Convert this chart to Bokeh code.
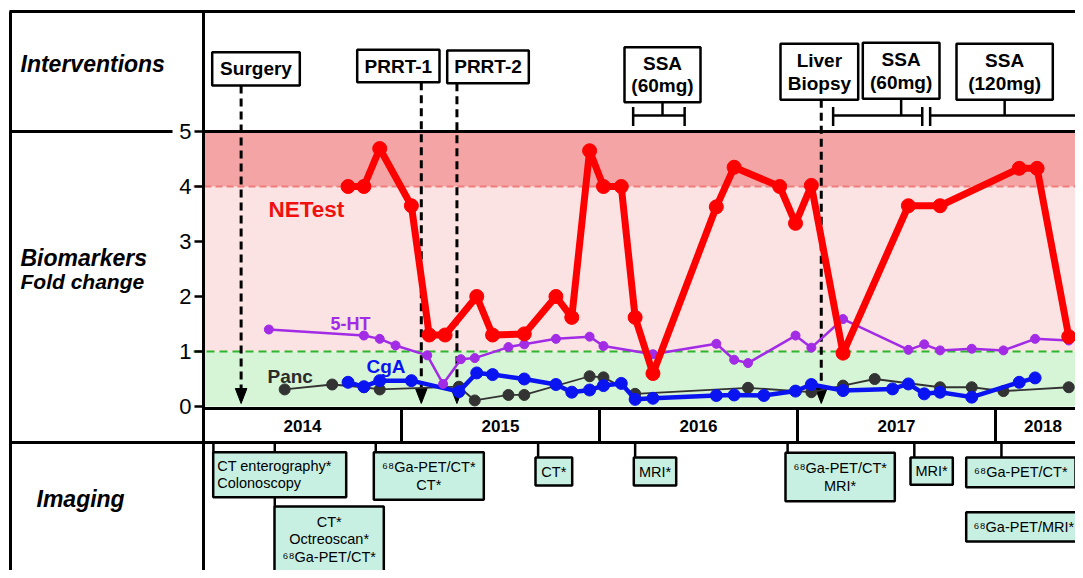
from bokeh.plotting import figure
from bokeh.models import Range1d, LinearAxis, FixedTicker
from bokeh.core.properties import value
from bokeh.embed import file_html
from bokeh.resources import INLINE

FONT = "Liberation Sans"

# ---------------- data ----------------
years = ["2014", "2015", "2016", "2017", "2018"]
year_starts = [2014.0, 2015.0, 2016.0, 2017.0, 2018.0]

# biomarkers, fold change vs. time (decimal years)
netest_x = [2014.73, 2014.81, 2014.89, 2015.05, 2015.14, 2015.22, 2015.38, 2015.46, 2015.62,
            2015.78, 2015.86, 2015.95, 2016.02, 2016.11, 2016.18, 2016.27, 2016.59, 2016.68,
            2016.91, 2016.99, 2017.07, 2017.23, 2017.56, 2017.72, 2018.12, 2018.21, 2018.37]
netest_y = [4.0, 4.0, 4.69, 3.65, 1.3, 1.3, 2.0, 1.3, 1.32,
            2.0, 1.62, 4.65, 4.0, 4.0, 1.62, 0.6, 3.63, 4.35,
            4.0, 3.33, 4.02, 0.97, 3.65, 3.65, 4.33, 4.33, 1.27]

ht5_x = [2014.33, 2014.81, 2014.89, 2014.97, 2015.13, 2015.21, 2015.30, 2015.37, 2015.54,
         2015.62, 2015.78, 2015.95, 2016.02, 2016.27, 2016.59, 2016.68, 2016.75, 2016.99,
         2017.07, 2017.23, 2017.56, 2017.64, 2017.72, 2017.88, 2018.04, 2018.20, 2018.37]
ht5_y = [1.40, 1.29, 1.23, 1.11, 0.93, 0.41, 0.86, 0.88, 1.08,
         1.13, 1.23, 1.27, 1.10, 0.95, 1.14, 0.85, 0.79, 1.29,
         1.07, 1.59, 1.03, 1.13, 1.02, 1.05, 1.02, 1.23, 1.20]

cga_x = [2014.73, 2014.81, 2014.89, 2015.05, 2015.29, 2015.38, 2015.46, 2015.62, 2015.78,
         2015.86, 2015.95, 2016.02, 2016.11, 2016.18, 2016.27, 2016.59, 2016.68, 2016.83,
         2016.99, 2017.07, 2017.23, 2017.48, 2017.56, 2017.64, 2017.72, 2017.88, 2018.12, 2018.20]
cga_y = [0.44, 0.36, 0.47, 0.47, 0.27, 0.61, 0.58, 0.50, 0.40,
         0.26, 0.30, 0.38, 0.42, 0.13, 0.15, 0.20, 0.21, 0.20,
         0.28, 0.40, 0.29, 0.32, 0.41, 0.23, 0.26, 0.17, 0.44, 0.52]

panc_x = [2014.41, 2014.65, 2014.81, 2014.89, 2015.29, 2015.37, 2015.54, 2015.62, 2015.95,
          2016.02, 2016.18, 2016.75, 2017.07, 2017.23, 2017.39, 2017.72, 2017.88, 2018.04, 2018.37]
panc_y = [0.31, 0.40, 0.35, 0.31, 0.36, 0.11, 0.21, 0.21, 0.55,
          0.53, 0.23, 0.34, 0.26, 0.38, 0.50, 0.35, 0.35, 0.28, 0.35]

# reference bands (fold change)
band_bottom = [0.0, 1.0, 4.0]
band_top = [1.0, 4.0, 5.0]
y_ticks = [0, 1, 2, 3, 4, 5]

# interventions
event_names = ["Surgery", "PRRT-1", "PRRT-2", "Liver\nBiopsy"]
event_dates = [2014.19, 2015.10, 2015.28, 2017.12]
ssa_names = ["SSA\n(60mg)", "SSA\n(60mg)", "SSA\n(120mg)"]
ssa_start = [2016.17, 2017.18, 2017.67]
ssa_end = [2016.43, 2017.63, 2018.60]

# imaging
imaging_names = ["CT enterography*\nColonoscopy", "CT*\nOctreoscan*\n\u2076\u2078Ga-PET/CT*",
                 "\u2076\u2078Ga-PET/CT*\nCT*", "CT*", "MRI*", "\u2076\u2078Ga-PET/CT*\nMRI*",
                 "MRI*", "\u2076\u2078Ga-PET/CT*", "\u2076\u2078Ga-PET/MRI*"]
imaging_dates = [2014.05, 2014.36, 2014.87, 2015.69, 2016.18, 2016.95, 2017.59, 2018.03, 2018.43]

# ---------------- layout helpers (picture pixels -> data units) ----------------
def sx(px):
    return 2014.0 + (px - 203.0) / 198.0

def sy(py):
    return (406.0 - py) / 55.0

# box layouts (left, right, top, bottom) in picture pixels
event_boxes = [(211.7, 299.3, 51.7, 85.0), (356.7, 439.0, 49.3, 81.7),
               (446.7, 528.3, 50.0, 82.7), (780.0, 857.7, 43.3, 99.3)]
ssa_boxes = [(624.0, 700.0, 46.7, 101.7), (862.3, 939.0, 42.3, 98.3), (956.0, 1052.3, 43.3, 99.3)]
img_boxes = [(212.7, 345.7, 451.7, 496.7), (274.0, 383.3, 506.0, 571.7), (373.3, 483.3, 451.7, 499.3),
             (535.0, 571.7, 457.0, 485.0), (633.3, 675.7, 457.0, 485.0), (785.0, 894.3, 452.3, 500.7),
             (910.0, 952.3, 457.0, 484.3), (965.7, 1075.0, 457.0, 486.7), (965.7, 1081.0, 511.7, 541.0)]

W, H = 1075, 570
X_END = sx(1100)
BOTTOM = sy(600)

p = figure(width=W, height=H, x_range=Range1d(sx(0), sx(W)), y_range=Range1d(sy(H), sy(0)),
           output_backend="svg", toolbar_location=None, min_border=0,
           x_axis_location=None, y_axis_location=None)
p.xgrid.grid_line_color = None
p.ygrid.grid_line_color = None
p.outline_line_color = None
p.background_fill_color = "white"
p.border_fill_color = "white"

# reference bands
p.quad(left=[2014.0] * 3, right=[X_END] * 3, bottom=band_bottom, top=band_top,
       fill_color=["#D6F5D6", "#FCE3E3", "#F4A4A4"], line_color=None)
p.segment(x0=[sx(193)], x1=[X_END], y0=[band_top[1]], y1=[band_top[1]],
          line_color="#F07C7C", line_width=2, line_dash="7 4")
p.segment(x0=[sx(193)], x1=[X_END], y0=[band_top[0]], y1=[band_top[0]],
          line_color="#2DB52D", line_width=2, line_dash="8 5")

# frame lines
fx0 = [sx(10), sx(9), 2014.0, sx(10), 2014.0, 2014.0, sx(10)]
fx1 = [sx(10), X_END, 2014.0, sx(172), X_END, X_END, X_END]
fy0 = [sy(11), sy(11), sy(11), 5.0, 5.0, sy(408), sy(442)]
fy1 = [BOTTOM, sy(11), BOTTOM, 5.0, 5.0, sy(408), sy(442)]
for ys in year_starts[1:]:
    fx0.append(ys); fx1.append(ys); fy0.append(sy(408)); fy1.append(sy(442))
p.segment(x0=fx0, x1=fx1, y0=fy0, y1=fy1, line_color="black", line_width=3)

# year labels
ylab_x = []
for ys in year_starts:
    a, b = max(ys, 2014.0), min(ys + 1, sx(1090))
    ylab_x.append((a + b) / 2)
p.text(x=ylab_x, y=[sy(425.5)] * len(years), text=years, text_font=value(FONT),
       text_font_size="17px", text_font_style="bold", text_align="center", text_baseline="middle",
       text_color="black")

# event dashed lines + arrowheads
p.segment(x0=event_dates, x1=event_dates, y0=[sy(b[3]) for b in event_boxes], y1=[sy(388)] * 4,
          line_color="black", line_width=3, line_dash="8 5")
hw = 5.8 / 198.0
p.patches(xs=[[d - hw, d + hw, d] for d in event_dates],
          ys=[[sy(388), sy(388), sy(403)] for _ in event_dates],
          fill_color="black", line_color="black", line_width=1)

# series
p.line(panc_x, panc_y, line_color="#333333", line_width=1.8)
p.scatter(panc_x, panc_y, size=11, marker="circle", fill_color="#333333", line_color="#333333")
p.line(cga_x, cga_y, line_color="#0A14F0", line_width=4.5)
p.scatter(cga_x, cga_y, size=12, marker="circle", fill_color="#0A14F0", line_color="#0A14F0")
p.line(ht5_x, ht5_y, line_color="#A22BE6", line_width=2.5)
p.scatter(ht5_x, ht5_y, size=9, marker="circle", fill_color="#A22BE6", line_color="#A22BE6")
p.line(netest_x, netest_y, line_color="#FF0000", line_width=7)
p.scatter(netest_x, netest_y, size=14, marker="circle", fill_color="#FF0000", line_color="#FF0000")

# series labels
p.text(x=[sx(268)], y=[sy(209)], text=["NETest"], text_font=value(FONT), text_font_size="22.5px",
       text_font_style="bold", text_color="#F01010", text_baseline="middle")
p.text(x=[sx(330)], y=[sy(323)], text=["5-HT"], text_font=value(FONT), text_font_size="18px",
       text_font_style="bold", text_color="#A22BE6", text_baseline="middle")
p.text(x=[sx(366)], y=[sy(366)], text=["CgA"], text_font=value(FONT), text_font_size="19px",
       text_font_style="bold", text_color="#0A14F0", text_baseline="middle")
p.text(x=[sx(267)], y=[sy(376)], text=["Panc"], text_font=value(FONT), text_font_size="19px",
       text_font_style="bold", text_color="#2B2B2B", text_baseline="middle")

# SSA brackets
bx0, bx1, by0, by1 = [], [], [], []
for (l, r, t, b), s, e in zip(ssa_boxes, ssa_start, ssa_end):
    c = sx((l + r) / 2)
    bx0 += [s, s, e, c]; bx1 += [e, s, e, c]
    by0 += [sy(115), sy(106.5), sy(106.5), sy(b)]
    by1 += [sy(115), sy(125.5), sy(125.5), sy(115)]
p.segment(x0=bx0, x1=bx1, y0=by0, y1=by1, line_color="black", line_width=2.5)

# intervention boxes + texts
def box_texts(boxes, names, spacing, align="center", pad=0.0):
    tx, ty, tt = [], [], []
    for (l, r, t, b), name in zip(boxes, names):
        lines = name.split("\n")
        n = len(lines)
        cy = (t + b) / 2
        x = sx((l + r) / 2) if align == "center" else sx(l + pad)
        for i, ln in enumerate(lines):
            tx.append(x)
            ty.append(sy(cy + (i - (n - 1) / 2) * spacing))
            tt.append(ln)
    return tx, ty, tt

all_iv_boxes = event_boxes + ssa_boxes
all_iv_names = event_names + ssa_names
p.quad(left=[sx(b[0]) for b in all_iv_boxes], right=[sx(b[1]) for b in all_iv_boxes],
       top=[sy(b[2]) for b in all_iv_boxes], bottom=[sy(b[3]) for b in all_iv_boxes],
       fill_color="white", line_color="black", line_width=2.5)
tx, ty, tt = box_texts(all_iv_boxes, all_iv_names, 22.5)
p.text(x=tx, y=ty, text=tt, text_font=value(FONT), text_font_size="19px", text_font_style="bold",
       text_align="center", text_baseline="middle", text_color="black")

# imaging connectors, boxes, texts
p.segment(x0=imaging_dates, x1=imaging_dates, y0=[sy(442)] * len(imaging_dates),
          y1=[sy(b[2]) for b in img_boxes], line_color="black", line_width=2.5)
p.quad(left=[sx(b[0]) for b in img_boxes], right=[sx(b[1]) for b in img_boxes],
       top=[sy(b[2]) for b in img_boxes], bottom=[sy(b[3]) for b in img_boxes],
       fill_color="#C8F0E2", line_color="black", line_width=2.5)
tx, ty, tt = box_texts(img_boxes[:1], imaging_names[:1], 16.5, align="left", pad=4)
p.text(x=tx, y=ty, text=tt, text_font=value(FONT), text_font_size="14.5px",
       text_align="left", text_baseline="middle", text_color="black")
tx, ty, tt = box_texts(img_boxes[1:], imaging_names[1:], 17.5)
p.text(x=tx, y=ty, text=tt, text_font=value(FONT), text_font_size="14.5px",
       text_align="center", text_baseline="middle", text_color="black")

# left panel titles
p.text(x=[sx(20), sx(20), sx(36)], y=[sy(63), sy(257), sy(498)],
       text=["Interventions", "Biomarkers", "Imaging"], text_font=value(FONT), text_font_size="23px",
       text_font_style="bold italic", text_color="black", text_baseline="middle")
p.text(x=[sx(20)], y=[sy(281)], text=["Fold change"], text_font=value(FONT), text_font_size="21px",
       text_font_style="bold italic", text_color="black", text_baseline="middle")

# y axis (fold change) placed on the panel divider
yaxis = LinearAxis(fixed_location=2014.0, ticker=FixedTicker(ticks=y_ticks),
                   axis_line_color=None, major_tick_in=0, major_tick_out=9,
                   major_tick_line_width=2.5, major_tick_line_color="black",
                   minor_tick_line_color=None, major_label_text_font=FONT,
                   major_label_text_font_size="22px", major_label_standoff=3,
                   major_label_text_color="black")
p.add_layout(yaxis, "left")

open("out.html", "w").write(file_html(p, INLINE))
